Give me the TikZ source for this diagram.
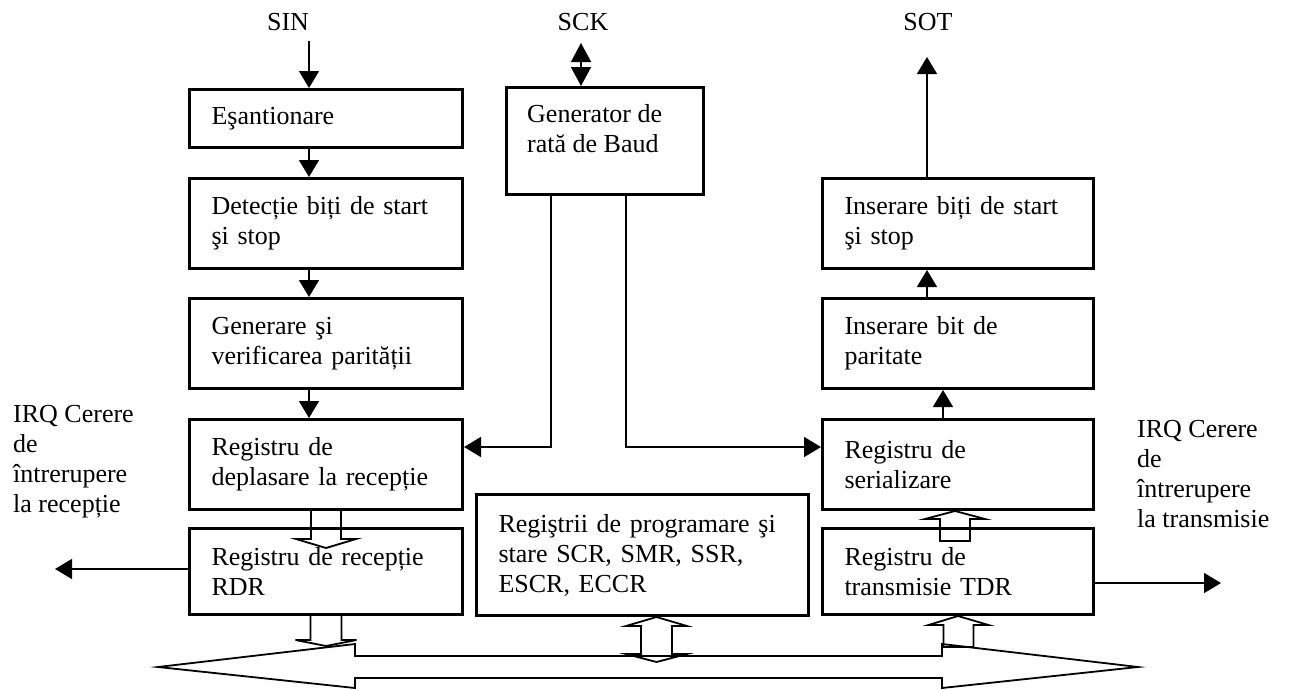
\documentclass[tikz,border=0pt]{standalone}
\usepackage{fontspec}
\setmainfont{Liberation Serif}
\usetikzlibrary{arrows.meta,calc}

\begin{document}
\begin{tikzpicture}[x=1pt,y=-1pt,
  every node/.style={font=\fontsize{26}{30}\selectfont},
  box/.style={draw,line width=3pt,align=left,inner xsep=22pt,inner ysep=0pt,anchor=north west},
  lcol/.style={box,text width=229pt},
  rcol/.style={box,text width=227pt},
  lbl/.style={anchor=north west,inner sep=0pt,align=left},
  conn/.style={line width=1.5pt,-{Triangle[length=17pt,width=20pt]}},
  hollow/.style={line width=1.8pt,line join=miter}]

\useasboundingbox (0,0) rectangle (1291,689);

% receive chain
\node[lcol,minimum height=58pt] (esan) at (188,88) {Eşantionare};
\node[lcol,minimum height=90pt] (det) at (188,177) {Detecție biți de start\\şi stop};
\node[lcol,minimum height=90pt] (gen) at (188,297) {Generare şi\\verificarea parității};
\node[lcol,minimum height=90pt] (dep) at (188,418) {Registru de\\deplasare la recepție};
\node[lcol,minimum height=86pt] (rdr) at (188,527) {Registru de recepție\\RDR};

% baud generator and control registers
\node[box,minimum width=197pt,minimum height=107pt,inner xsep=0pt] (baud) at (505,86) {};
\node[lbl] (baudtxt) at (527,104) {Generator de\\rată de Baud};
\node[box,text width=288pt,minimum height=121pt] (regs) at (475,493) {Regiştrii de programare şi\\stare SCR, SMR, SSR,\\ESCR, ECCR};

% transmit chain
\node[rcol,minimum height=90pt] (ins) at (821,177) {Inserare biți de start\\şi stop};
\node[rcol,minimum height=90pt] (par) at (821,297) {Inserare bit de\\paritate};
\node[rcol,minimum height=90pt] (ser) at (821,418) {Registru de\\serializare};
\node[rcol,minimum height=86pt] (tdr) at (821,527) {Registru de\\transmisie TDR};

% pin names
\node[anchor=base] (sin) at (288,30) {SIN};
\node[anchor=base] (sck) at (583,30) {SCK};
\node[anchor=base] (sot) at (928,30) {SOT};

% interrupt requests
\node[lbl] (irql) at (13,405) {IRQ Cerere\\de\\întrerupere\\la recepție};
\node[lbl] (irqr) at (1137,420) {IRQ Cerere\\de\\întrerupere\\la transmisie};

% receive path
\coordinate (sinin) at (309,41);
\draw[conn] (sinin) -- (esan.north -| sinin);
\draw[conn] (esan.south -| sinin) -- (det.north -| sinin);
\draw[conn] (det.south -| sinin) -- (gen.north -| sinin);
\draw[conn] (gen.south -| sinin) -- (dep.north -| sinin);

% clock pin
\coordinate (sckin) at (581,43);
\draw[line width=1.5pt,{Triangle[length=19pt,width=20pt]}-{Triangle[length=19pt,width=20pt]}] (sckin) -- (baud.north -| sckin);

% clock distribution
\coordinate (bl) at (551,447);
\coordinate (br) at (626,447);
\draw[conn] (baud.south -| bl) -- (bl) -- (dep.east |- bl);
\draw[conn] (baud.south -| br) -- (br) -- (ser.west |- br);

% transmit path
\coordinate (sotout) at (927,57);
\coordinate (px) at (943,0);
\draw[conn] (ins.north -| sotout) -- (sotout);
\draw[conn] (par.north -| sotout) -- (ins.south -| sotout);
\draw[conn] (ser.north -| px) -- (par.south -| px);

% interrupt outputs
\coordinate (irqlout) at (55,569);
\coordinate (irqrout) at (1221,583);
\draw[conn] (rdr.west |- irqlout) -- (irqlout);
\draw[conn] (tdr.east |- irqrout) -- (irqrout);

% data bus
\draw[hollow] (158,667) -- (355,644) -- (355,656) -- (942,656) -- (942,644)
  -- (1138,667) -- (942,688) -- (942,678) -- (355,678) -- (355,688) -- cycle;

% shift register to receive data register
\draw[hollow] ($(dep.south)+(-15,0)$) -- ++(0,28) -- ++(-15,0) -- ($(dep.south)+(0,37)$)
  -- ($(dep.south)+(30,28)$) -- ++(-15,0) -- ++(0,-28);
% receive data register to bus
\draw[hollow] ($(rdr.south)+(-15.5,0)$) -- ++(0,24) -- ++(-15,0) -- ($(rdr.south)+(0,30)$)
  -- ($(rdr.south)+(30.5,24)$) -- ++(-15,0) -- ++(0,-24);
% control registers to and from bus
\coordinate (rb) at (656.5,0);
\draw[hollow] (regs.south -| rb) -- ++(30.5,9) -- ++(-15,0) -- ++(0,28) -- ++(15,0)
  -- ++(-30.5,8) -- ++(-30.5,-8) -- ++(15,0) -- ++(0,-28) -- ++(-15,0) -- cycle;
% bus to transmit data register
\draw[hollow] (tdr.south) -- ++(30.5,9) -- ++(-15,0) -- ++(0,22) -- ++(-30,0)
  -- ++(0,-22) -- ++(-15,0) -- cycle;
% transmit data register to serializer
\coordinate (sx) at (955,0);
\draw[hollow] (ser.south -| sx) -- ++(30,8) -- ++(-15,0) -- ++(0,22) -- ++(-30,0)
  -- ++(0,-22) -- ++(-15,0) -- cycle;
\end{tikzpicture}
\end{document}
